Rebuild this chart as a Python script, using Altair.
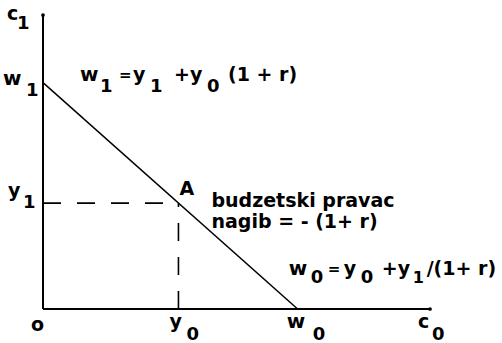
import altair as alt
import pandas as pd

# --- intertemporal budget constraint: values on the (c0, c1) plane ---
C0_MAX = 10.0   # end of the c0 axis
C1_MAX = 10.0   # end of the c1 axis
Y0 = 3.5        # income today
Y1 = 3.6        # income tomorrow
W0 = 6.58       # wealth measured today (c0 intercept)
W1 = 7.7        # wealth measured tomorrow (c1 intercept)

# plot-area geometry
W, H = 387, 294
PAD = {"left": 43, "top": 15, "right": 72, "bottom": 34}
SX = W / C0_MAX
SY = H / C1_MAX

FONT = "DejaVu Sans"

xs = alt.Scale(domain=[0, C0_MAX], nice=False, zero=False)
ys = alt.Scale(domain=[0, C1_MAX], nice=False, zero=False)

# axes drawn as plain rules
axes_df = pd.DataFrame({
    "x": [0, 0], "y": [0, 0], "x2": [C0_MAX, 0], "y2": [0, C1_MAX],
})
axes = alt.Chart(axes_df).mark_rule(color="black", strokeWidth=2).encode(
    x=alt.X("x:Q", scale=xs, axis=None),
    y=alt.Y("y:Q", scale=ys, axis=None),
    x2="x2:Q", y2="y2:Q",
)

tips_df = pd.DataFrame({"x": [C0_MAX, 0], "y": [0, C1_MAX]})
tips = alt.Chart(tips_df).mark_point(filled=True, color="black", size=14, opacity=1).encode(
    x=alt.X("x:Q", scale=xs, axis=None),
    y=alt.Y("y:Q", scale=ys, axis=None),
)

# budget line from (0, W1) to (W0, 0)
budget_df = pd.DataFrame({"c0": [0, W0], "c1": [W1, 0]})
budget = alt.Chart(budget_df).mark_line(color="black", strokeWidth=1.5).encode(
    x=alt.X("c0:Q", scale=xs, axis=None),
    y=alt.Y("c1:Q", scale=ys, axis=None),
)

# dashed guides to the endowment point A = (Y0, Y1)
guides_df = pd.DataFrame({
    "x": [0, Y0], "y": [Y1, 0], "x2": [Y0, Y0], "y2": [Y1, Y1],
})
guides = alt.Chart(guides_df).mark_rule(
    color="black", strokeWidth=1.6, strokeDash=[18, 16]
).encode(
    x=alt.X("x:Q", scale=xs, axis=None),
    y=alt.Y("y:Q", scale=ys, axis=None),
    x2="x2:Q", y2="y2:Q",
)

# --- text: each label is anchored to a point of the diagram and built
# from pieces (text, dx, dy, size) so subscripts sit below the baseline ---
MAIN, SUB = 19, 18
labels = [
    ((0, C1_MAX), [("c", -36, 5, MAIN), ("1", -26, 14, SUB)]),
    ((0, W1), [("w", -40, 2, 20), ("1", -17, 13, SUB)]),
    ((0, Y1), [("y", -35, -6, MAIN), ("1", -20, 5, SUB)]),
    ((0, 0), [("o", -12, 22, MAIN)]),
    ((Y0, 0), [("y", -9, 19, MAIN), ("0", 8, 31, SUB)]),
    ((W0, 0), [("w", -11, 19, 20), ("0", 15, 31, SUB)]),
    ((C0_MAX, 0), [("c", -12, 19, MAIN), ("0", 2, 31, SUB)]),
    ((Y0, Y1), [("A", 1, -8, MAIN)]),
    ((Y0, Y1), [("budzetski pravac", 33, 4, MAIN),
                ("nagib = - (1+ r)", 33, 25, MAIN)]),
    ((0, W1), [("w", 37, -2, 20), ("1", 57, 9, SUB), ("=", 76, -3, 15),
               ("y", 90, -2, MAIN), ("1", 107, 9, SUB), ("+", 131, -2, MAIN),
               ("y", 147, -2, MAIN), ("0", 164, 9, SUB),
               ("(1 + r)", 185, -2, MAIN)]),
    ((W0, 0), [("w", -9, -34, 20), ("0", 13, -26, SUB), ("=", 30, -35, 15),
               ("y", 46, -34, MAIN), ("0", 63, -26, SUB), ("+", 84, -34, MAIN),
               ("y", 100, -34, MAIN), ("1", 115, -26, 16),
               ("/(1+ r)", 129, -34, MAIN)]),
]

rows = []
for (ax, ay), pieces in labels:
    for text, dx, dy, size in pieces:
        rows.append({"x": ax + dx / SX, "y": ay - dy / SY, "t": text, "s": size})
text_df = pd.DataFrame(rows)

texts = alt.Chart(text_df).mark_text(
    align="left", baseline="alphabetic", font=FONT, fontWeight="bold", color="black"
).encode(
    x=alt.X("x:Q", scale=xs, axis=None),
    y=alt.Y("y:Q", scale=ys, axis=None),
    text="t:N",
    size=alt.Size("s:Q", scale=None, legend=None),
)

chart = alt.layer(axes, tips, budget, guides, texts).properties(
    width=W, height=H, padding=PAD,
    autosize=alt.AutoSizeParams(type="none"),
    background="white",
).configure_view(stroke=None)

chart.save("out.html", embed_options={"renderer": "svg", "actions": False})
